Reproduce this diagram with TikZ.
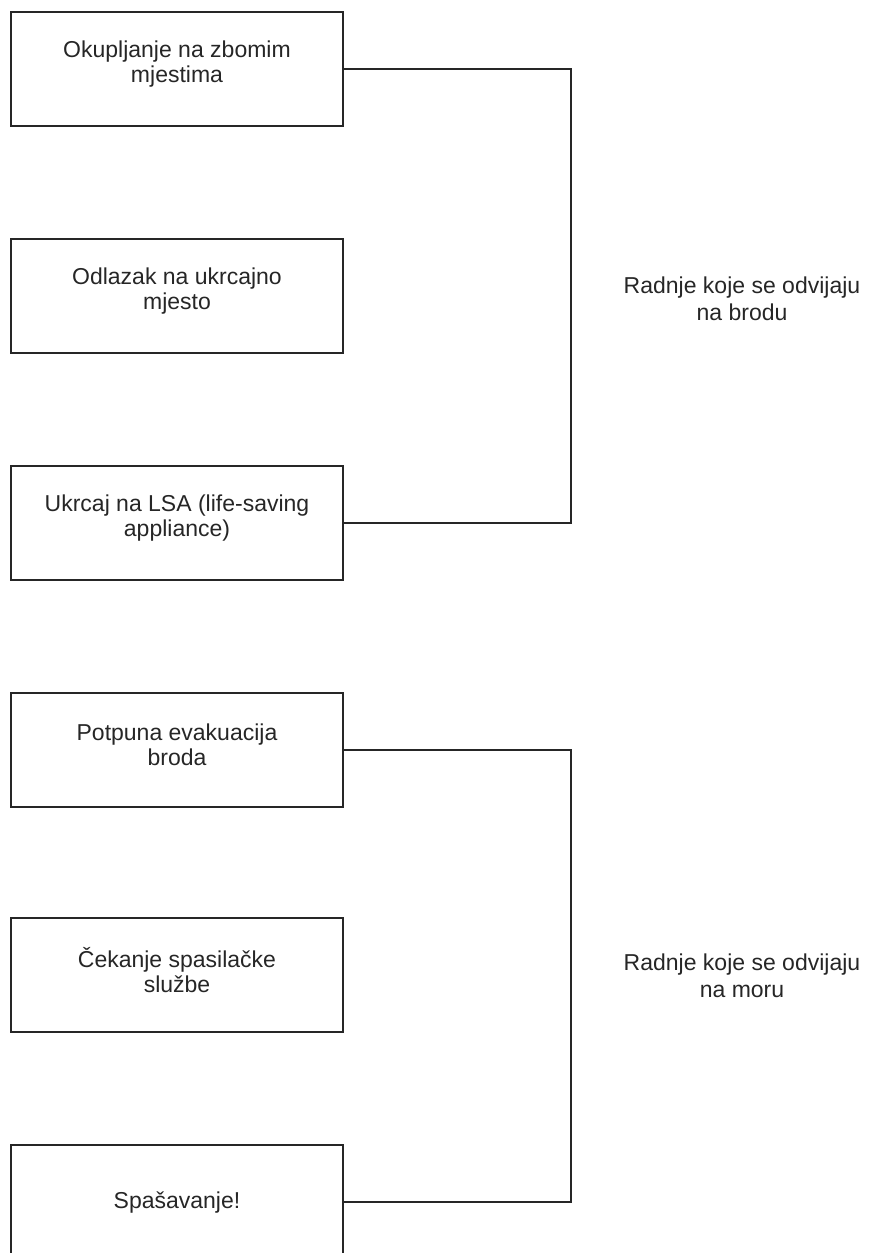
\documentclass[tikz,border=0pt]{standalone}
\usepackage{fontspec}
\setmainfont{Liberation Sans}
\begin{document}
\begin{tikzpicture}[x=1pt,y=-1pt,
  stepbox/.style={draw=black!85,line width=1.5pt,minimum width=332pt,minimum height=114pt,inner sep=0pt},
  boxtext/.style={align=center,font=\fontsize{23}{25.5}\selectfont,text=black!85,inner sep=0pt},
  sidelabel/.style={align=center,font=\fontsize{23}{26.5}\selectfont,text=black!85},
  link/.style={draw=black!85,line width=1.5pt}]
\useasboundingbox (0,0) rectangle (868,1253);
\begin{scope}
\clip (0,0) rectangle (868,1253);
\node[stepbox,label={[boxtext,yshift=5pt]center:Okupljanje na zbomim\\mjestima}] (b1) at (177,69) {};
\node[stepbox,label={[boxtext,yshift=5pt]center:Odlazak na ukrcajno\\mjesto}] (b2) at (177,296) {};
\node[stepbox,label={[boxtext,yshift=5pt]center:Ukrcaj na LSA (life-saving\\appliance)}] (b3) at (177,523) {};
\node[stepbox,label={[boxtext,yshift=5pt]center:Potpuna evakuacija\\broda}] (b4) at (177,750) {};
\node[stepbox,label={[boxtext,yshift=5pt]center:Čekanje spasilačke\\službe}] (b5) at (177,975) {};
\node[stepbox,label={[boxtext]center:Spašavanje!}] (b6) at (177,1202) {};
\end{scope}
\coordinate (k1) at (571,70);
\coordinate (k2) at (571,750);
\draw[link] (b1.east) -- (b1.east -| k1) -- (b3.east -| k1) -- (b3.east);
\draw[link] (b4.east) -- (b4.east -| k2) -- (b6.east -| k2) -- (b6.east);
\node[sidelabel] (l1) at (742,299) {Radnje koje se odvijaju\\na brodu};
\node[sidelabel] (l2) at (742,976) {Radnje koje se odvijaju\\na moru};
\end{tikzpicture}
\end{document}
